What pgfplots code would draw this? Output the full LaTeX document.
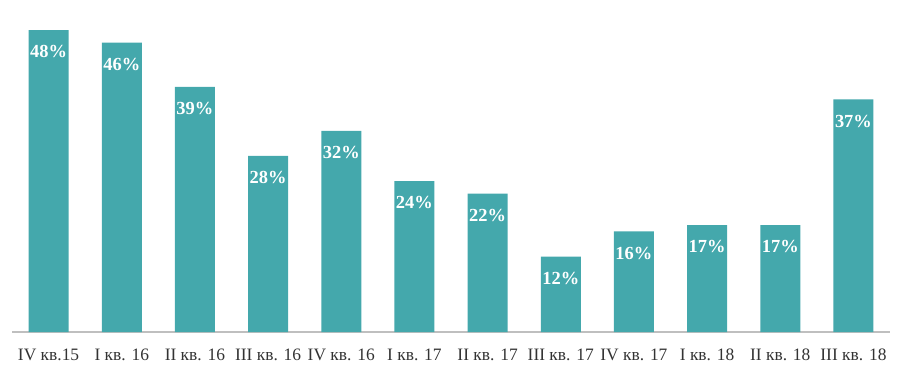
\documentclass[border=0pt]{standalone}
\usepackage{pgfplots}
\pgfplotsset{compat=1.18}
\usepackage{fontspec}
\setmainfont{Liberation Serif}
\definecolor{barteal}{RGB}{68,168,172}
\definecolor{axgray}{RGB}{191,191,191}
\begin{document}
\begin{tikzpicture}[x=1bp,y=1bp]
\useasboundingbox (0,0) rectangle (900,372);
\begin{axis}[
  at={(12bp,40bp)}, anchor=south west,
  scale only axis, width=878bp, height=327bp,
  xmin=-0.5, xmax=11.5, ymin=0, ymax=52,
  axis y line=none,
  axis x line*=bottom,
  x axis line style={draw=axgray, line width=1.2bp, -},
  xtick=data,
  xticklabels={IV кв.15, I кв. 16, II кв. 16, III кв. 16, IV кв. 16, I кв. 17, II кв. 17, III кв. 17, IV кв. 17, I кв. 18, II кв. 18, III кв. 18},
  major tick length=0pt,
  xticklabel style={font=\fontsize{17.5}{19}\selectfont, text=black!80, yshift=-13bp},
  ybar, bar width=40bp,
  nodes near coords={\textbf{\pgfmathprintnumber[assume math mode=true]{\pgfplotspointmeta}\%}},
  every node near coord/.append style={anchor=north, yshift=-12bp, text=white, font=\fontsize{18.5}{20}\selectfont},
  clip=false,
]
\addplot[fill=barteal, draw=none] coordinates {
(0,48) (1,46) (2,39) (3,28) (4,32) (5,24) (6,22) (7,12) (8,16) (9,17) (10,17) (11,37)};
\end{axis}
\end{tikzpicture}
\end{document}
